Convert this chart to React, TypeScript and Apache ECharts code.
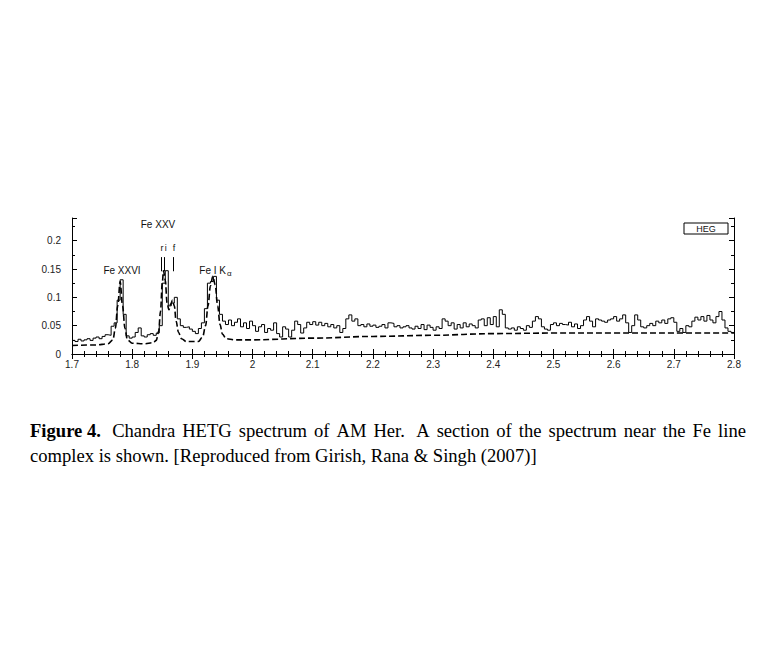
import React, { useEffect, useRef } from "react";
import * as echarts from "echarts";

// Histogram (HEG spectrum), bins of 0.005 Å starting at 1.700 Å
const BIN_START = 1.7;
const BIN_WIDTH = 0.005;
const counts = [
  0.024, 0.022, 0.026, 0.023, 0.025, 0.027, 0.024, 0.028, 0.030, 0.027,
  0.031, 0.034, 0.033, 0.049, 0.055, 0.095, 0.131, 0.070, 0.032, 0.028,
  0.030, 0.038, 0.046, 0.032, 0.030, 0.034, 0.036, 0.033, 0.037, 0.050,
  0.125, 0.147, 0.085, 0.090, 0.100, 0.062, 0.050, 0.047, 0.048, 0.044,
  0.040, 0.036, 0.045, 0.055, 0.080, 0.125, 0.128, 0.137, 0.095, 0.070,
  0.058, 0.052, 0.060, 0.050, 0.056, 0.062, 0.048, 0.055, 0.045, 0.058,
  0.050, 0.040, 0.048, 0.052, 0.038, 0.045, 0.042, 0.055, 0.036, 0.030,
  0.048, 0.044, 0.030, 0.042, 0.058, 0.052, 0.037, 0.046, 0.056, 0.052,
  0.057, 0.051, 0.056, 0.050, 0.054, 0.048, 0.052, 0.046, 0.050, 0.038,
  0.045, 0.062, 0.069, 0.058, 0.062, 0.050, 0.052, 0.048, 0.053, 0.049,
  0.051, 0.047, 0.049, 0.052, 0.046, 0.055, 0.054, 0.048, 0.050, 0.046,
  0.048, 0.050, 0.046, 0.044, 0.049, 0.045, 0.052, 0.043, 0.051, 0.047,
  0.042, 0.048, 0.045, 0.062, 0.058, 0.050, 0.055, 0.044, 0.052, 0.046,
  0.055, 0.048, 0.053, 0.050, 0.046, 0.060, 0.062, 0.050, 0.064, 0.052,
  0.066, 0.048, 0.078, 0.070, 0.046, 0.044, 0.046, 0.042, 0.048, 0.045,
  0.042, 0.050, 0.047, 0.058, 0.066, 0.062, 0.048, 0.044, 0.042, 0.052,
  0.055, 0.050, 0.054, 0.052, 0.051, 0.056, 0.048, 0.053, 0.045, 0.050,
  0.060, 0.066, 0.058, 0.048, 0.062, 0.060, 0.058, 0.056, 0.060, 0.062,
  0.066, 0.058, 0.062, 0.069, 0.055, 0.038, 0.050, 0.069, 0.060, 0.048,
  0.046, 0.050, 0.054, 0.050, 0.058, 0.055, 0.060, 0.054, 0.062, 0.064,
  0.056, 0.040, 0.045, 0.038, 0.050, 0.048, 0.058, 0.065, 0.060, 0.066,
  0.058, 0.068, 0.060, 0.055, 0.066, 0.075, 0.060, 0.046, 0.040, 0.038,
];

// Model (dashed)
const modelX = [
  1.7, 1.74, 1.76, 1.768, 1.772, 1.776, 1.78, 1.784, 1.788, 1.792, 1.8,
  1.82, 1.835, 1.84, 1.844, 1.847, 1.85, 1.852, 1.855, 1.858, 1.861, 1.864,
  1.867, 1.87, 1.873, 1.877, 1.882, 1.89, 1.91, 1.917, 1.922, 1.926, 1.93,
  1.934, 1.938, 1.942, 1.946, 1.95, 1.956, 1.97, 2.0, 2.1, 2.2, 2.3, 2.4,
  2.5, 2.6, 2.7, 2.8,
];
const modelY = [
  0.015, 0.016, 0.018, 0.025, 0.045, 0.085, 0.128, 0.085, 0.045, 0.025, 0.019,
  0.018, 0.02, 0.024, 0.04, 0.075, 0.125, 0.147, 0.13, 0.09, 0.078, 0.088,
  0.095, 0.085, 0.058, 0.038, 0.027, 0.022, 0.022, 0.03, 0.05, 0.085, 0.12,
  0.137, 0.122, 0.085, 0.052, 0.035, 0.027, 0.025, 0.025, 0.028, 0.031, 0.033, 0.036,
  0.037, 0.037, 0.037, 0.037,
];

// Fe XXV r, i, f line markers
const rifX = [1.849, 1.8535, 1.869];
const rifLabels = ["r", "i", "f"];
const rifRange = [0.146, 0.171];

const caption1 = [
  "Figure 4.", "Chandra", "HETG", "spectrum", "of", "AM", "Her.", "A", "section",
  "of", "the", "spectrum", "near", "the", "Fe", "line",
];
const caption2 = "complex is shown. [Reproduced from Girish, Rana & Singh (2007)]";

const SANS = "'Liberation Sans', Arial, sans-serif";
const SERIF = "'Liberation Serif', 'Times New Roman', serif";
const CAP_SIZE = 18.6;

export default function App() {
  const ref = useRef<HTMLDivElement>(null);
  useEffect(() => {
    if (!ref.current) return;
    const chart = echarts.init(ref.current, undefined, { renderer: "svg" });

    const hist: number[][] = counts.map((v, i) => [
      +(BIN_START + i * BIN_WIDTH).toFixed(3),
      v,
    ]);
    hist.push([+(BIN_START + counts.length * BIN_WIDTH).toFixed(3), counts[counts.length - 1]]);
    const model = modelX.map((x, i) => [x, modelY[i]]);

    // caption layout (justified first line)
    const cv = document.createElement("canvas").getContext("2d")!;
    const measure = (t: string, bold: boolean) => {
      cv.font = `${bold ? "bold " : ""}${CAP_SIZE}px "Liberation Serif"`;
      return cv.measureText(t).width;
    };
    const L = 30, R = 746;
    const widths = caption1.map((w, i) => measure(w, i === 0));
    const total = widths.reduce((a, b) => a + b, 0);
    const weights = caption1.slice(0, -1).map((w) => (w.endsWith(".") ? 1.6 : 1));
    const wsum = weights.reduce((a, b) => a + b, 0);
    const unit = (R - L - total) / wsum;
    let cx = L;
    const capEls: any[] = [];
    caption1.forEach((w, i) => {
      capEls.push({
        type: "text",
        x: cx,
        y: 430,
        style: {
          text: w,
          font: `${i === 0 ? "bold " : ""}${CAP_SIZE}px ${SERIF}`,
          fill: "#000",
          verticalAlign: "middle",
        },
      });
      cx += widths[i] + (i < weights.length ? weights[i] * unit : 0);
    });
    capEls.push({
      type: "text",
      x: L,
      y: 455,
      style: {
        text: caption2,
        font: `${CAP_SIZE}px ${SERIF}`,
        fill: "#000",
        verticalAlign: "middle",
      },
    });

    const lbl = (text: string, x: number, y: number, size = 10, align = "center") => ({
      type: "text",
      x,
      y,
      style: {
        text,
        font: `${size}px ${SANS}`,
        fill: "#111",
        align,
        verticalAlign: "middle",
      },
    });

    const xFmt = (v: number) => String(+(+v).toFixed(2));
    const axisCommon = {
      axisLine: { show: true, lineStyle: { color: "#000", width: 1 } },
      splitLine: { show: false },
    };

    chart.setOption({
      animation: false,
      backgroundColor: "#fff",
      grid: { left: 72, right: 47, top: 218, bottom: 302, containLabel: false },
      xAxis: [
        {
          type: "value",
          min: 1.7,
          max: 2.8,
          interval: 0.1,
          ...axisCommon,
          axisTick: { show: true, inside: true, length: 5, lineStyle: { color: "#000" } },
          minorTick: { show: true, splitNumber: 5, length: 3, lineStyle: { color: "#000" } },
          axisLabel: {
            formatter: xFmt,
            fontFamily: SANS,
            fontSize: 10,
            color: "#222",
            margin: 5,
          },
        },
        {
          type: "value",
          position: "top",
          min: 1.7,
          max: 2.8,
          interval: 0.1,
          ...axisCommon,
          axisTick: { show: true, inside: true, length: 5, lineStyle: { color: "#000" } },
          minorTick: { show: true, splitNumber: 5, length: 3, lineStyle: { color: "#000" } },
          axisLabel: { show: false },
        },
      ],
      yAxis: [
        {
          type: "value",
          min: 0,
          max: 0.24,
          interval: 0.05,
          ...axisCommon,
          axisTick: { show: true, inside: true, length: 5, lineStyle: { color: "#000" } },
          minorTick: { show: true, splitNumber: 2, length: 3, lineStyle: { color: "#000" } },
          axisLabel: {
            showMaxLabel: false,
            formatter: (v: number) => String(+(+v).toFixed(3)),
            fontFamily: SANS,
            fontSize: 10,
            color: "#222",
            margin: 11,
          },
        },
        {
          type: "value",
          position: "right",
          min: 0,
          max: 0.24,
          interval: 0.05,
          ...axisCommon,
          axisTick: { show: true, inside: true, length: 5, lineStyle: { color: "#000" } },
          minorTick: { show: true, splitNumber: 2, length: 3, lineStyle: { color: "#000" } },
          axisLabel: { show: false },
        },
      ],
      series: [
        {
          name: "model",
          type: "line",
          data: model,
          smooth: 0.35,
          smoothMonotone: "x",
          symbol: "none",
          lineStyle: { color: "#000", width: 1.6, type: [6, 3] },
          silent: true,
          markLine: {
            silent: true,
            symbol: "none",
            label: { show: false },
            lineStyle: { color: "#000", width: 1, type: "solid" },
            data: rifX.map((x) => [
              { coord: [x, rifRange[0]] },
              { coord: [x, rifRange[1]] },
            ]),
          },
        },
        {
          name: "HEG",
          type: "line",
          data: hist,
          step: "end",
          symbol: "none",
          lineStyle: { color: "#000", width: 1 },
          silent: true,
        },
      ],
      graphic: [
        lbl("Fe XXVI", 122, 270),
        lbl("Fe XXV", 158, 224),
        lbl(rifLabels[0], 162, 248, 9),
        lbl(rifLabels[1], 165.8, 248, 9),
        lbl(rifLabels[2], 174, 248, 9),
        lbl("Fe I K", 226, 270, 10, "right"),
        lbl("α", 227, 273, 8, "left"),
        {
          type: "rect",
          shape: { x: 684, y: 223, width: 44, height: 11 },
          style: { fill: "none", stroke: "#000", lineWidth: 1 },
        },
        lbl("HEG", 706, 229, 9),
        ...capEls,
      ],
    });
    return () => chart.dispose();
  }, []);
  return (
    <div
      ref={ref}
      style={{ position: "fixed", left: 0, top: 0, width: 781, height: 656 }}
    />
  );
}
